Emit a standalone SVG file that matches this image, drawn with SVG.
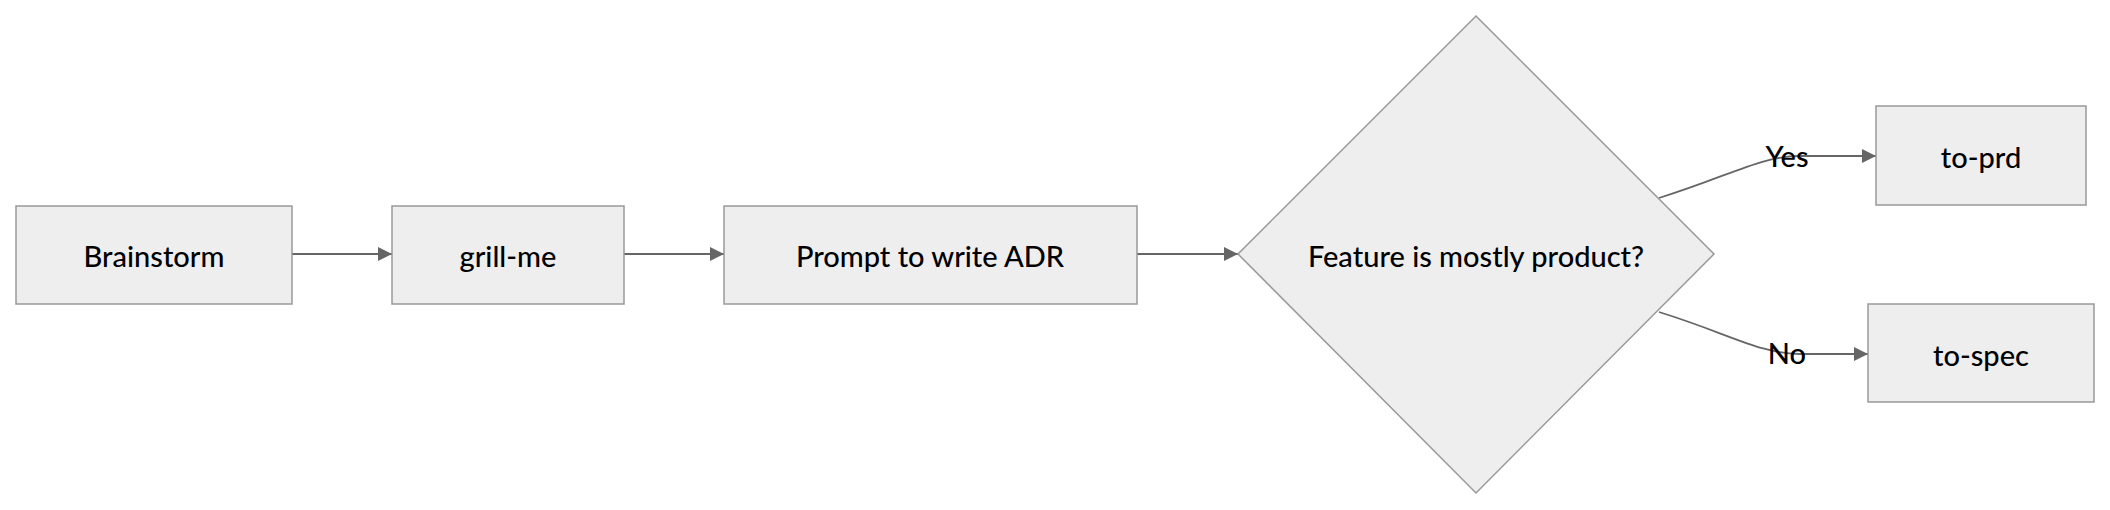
<svg xmlns="http://www.w3.org/2000/svg" width="2110" height="510" viewBox="0 0 2110 510">
<style>
.n{fill:#eeeeee;stroke:#999999;stroke-width:1.5}
.t{font-family:Lato,"Open Sans",sans-serif;font-size:29px;font-weight:500;fill:#000;text-anchor:middle;dominant-baseline:central}
.e{fill:none;stroke:#666666;stroke-width:1.8}
</style>
<defs><marker id="a" viewBox="0 0 10 10" refX="10" refY="5" markerWidth="16" markerHeight="14" orient="auto" markerUnits="userSpaceOnUse"><path d="M0,0L10,5L0,10z" fill="#666666"/></marker></defs>
<rect width="2110" height="510" fill="#fff"/>
<g id="connectors">
<path class="e" marker-end="url(#a)" d="M292,254H392"/>
<path class="e" marker-end="url(#a)" d="M624,254H724"/>
<path class="e" marker-end="url(#a)" d="M1137,254H1238"/>
<path class="e" marker-end="url(#a)" d="M1659,198C1730,176 1760,156 1800,156H1876"/>
<path class="e" marker-end="url(#a)" d="M1659,312C1730,334 1760,354 1800,354H1868"/>
<text class="t" x="1787" y="155">Yes</text>
<text class="t" x="1787" y="352">No</text>
</g>
<g id="brainstorm"><rect class="n" x="16" y="206" width="276" height="98"/><text class="t" x="154" y="255">Brainstorm</text></g>
<g id="grillme"><rect class="n" x="392" y="206" width="232" height="98"/><text class="t" x="508" y="255">grill-me</text></g>
<g id="adr"><rect class="n" x="724" y="206" width="413" height="98"/><text class="t" x="930" y="255">Prompt to write ADR</text></g>
<g id="decision"><polygon class="n" points="1476,16 1714,254 1476,493 1238,254"/><text class="t" x="1476" y="255">Feature is mostly product?</text></g>
<g id="toprd"><rect class="n" x="1876" y="106" width="210" height="99"/><text class="t" x="1981" y="156">to-prd</text></g>
<g id="tospec"><rect class="n" x="1868" y="304" width="226" height="98"/><text class="t" x="1981" y="354">to-spec</text></g>
</svg>
